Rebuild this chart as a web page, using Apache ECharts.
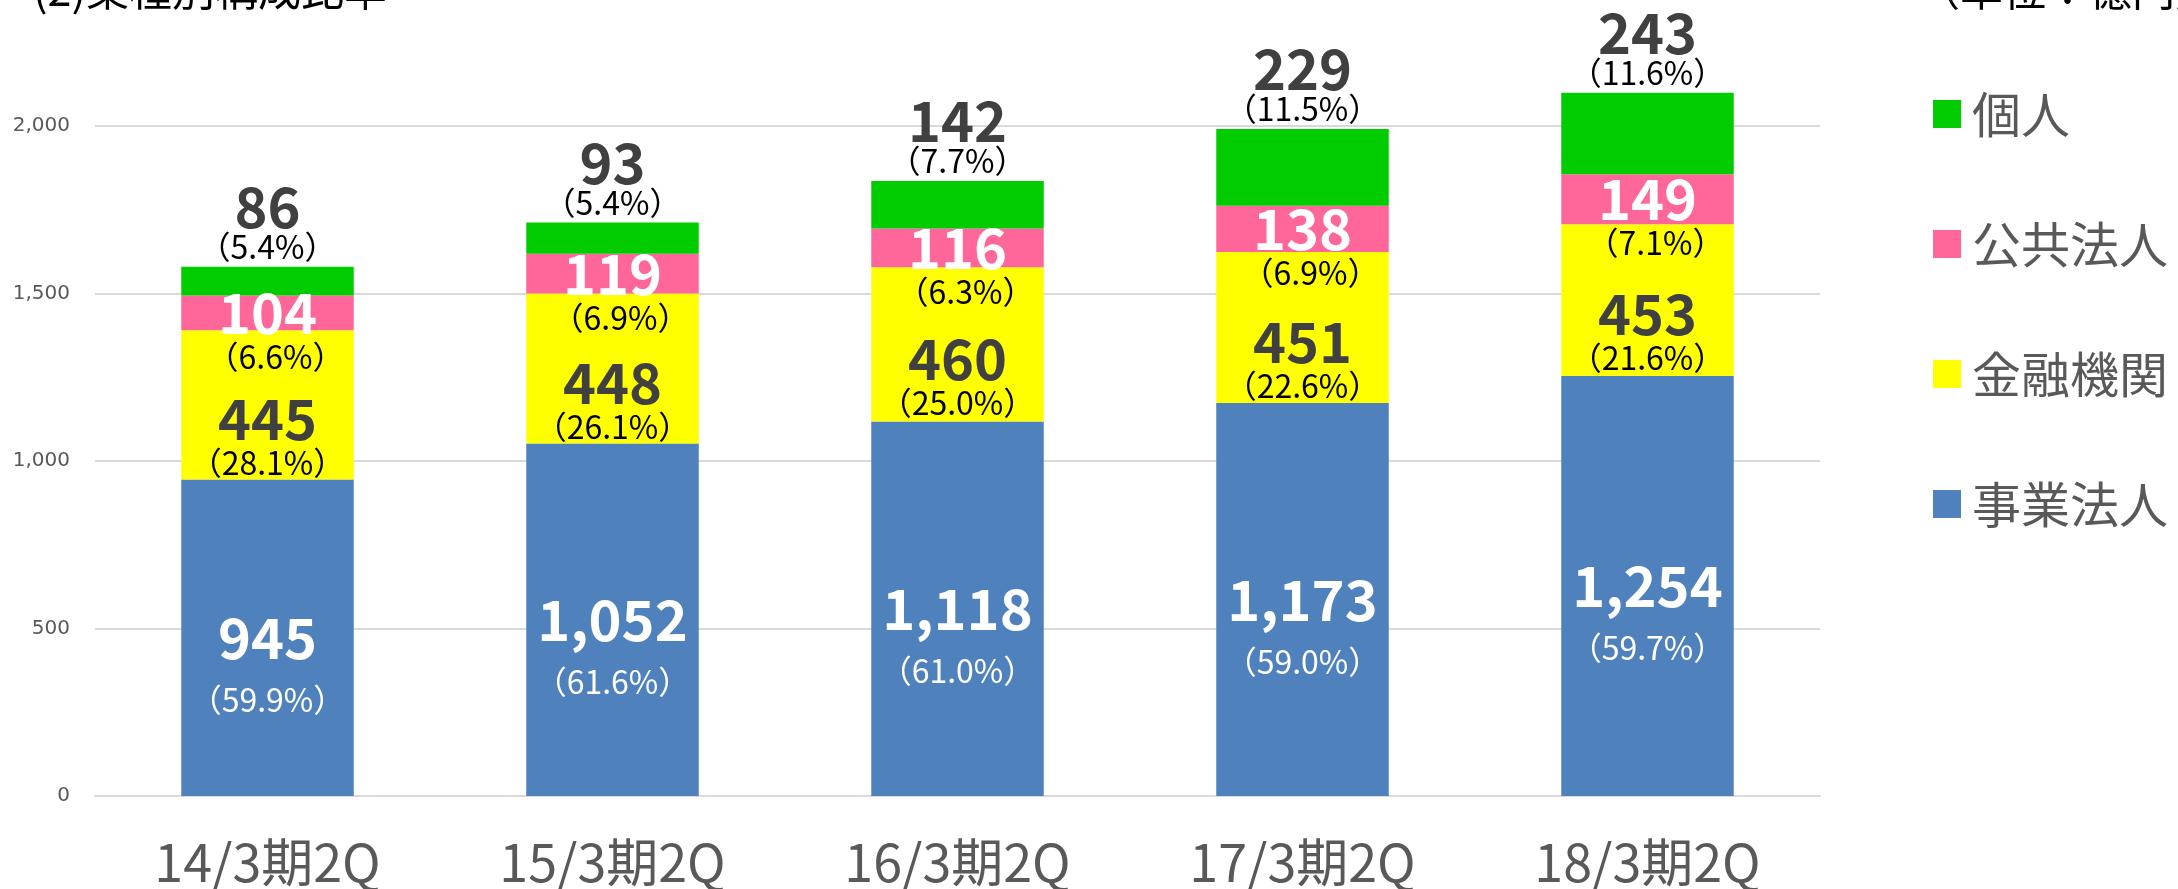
<!DOCTYPE html>
<html>
<head>
<meta charset="utf-8">
<script src="https://cdn.jsdelivr.net/npm/echarts@6/dist/echarts.min.js"></script>
<style>
html, body { margin: 0; padding: 0; background: #fff; }
#chart { width: 2178px; height: 889px; }
</style>
</head>
<body>
<div id="chart"></div>
<script>
// values in 億円, ratios in %
const categories = ['14/3期2Q', '15/3期2Q', '16/3期2Q', '17/3期2Q', '18/3期2Q']
const corporate = [945, 1052, 1118, 1173, 1254]
const corporateRatio = ['59.9', '61.6', '61.0', '59.0', '59.7']
const financial = [445, 448, 460, 451, 453]
const financialRatio = ['28.1', '26.1', '25.0', '22.6', '21.6']
const publicBody = [104, 119, 116, 138, 149]
const publicRatio = ['6.6', '6.9', '6.3', '6.9', '7.1']
const individual = [86, 93, 142, 229, 243]
const individualRatio = ['5.4', '5.4', '7.7', '11.5', '11.6']
const legendOrder = ['個人', '公共法人', '金融機関', '事業法人']

const jp = '"Noto Sans CJK JP", "Noto Sans", sans-serif'
const fmt = (v) => v.toLocaleString('en-US')

const makeLabel = (ratios, o) => ({
  show: true,
  position: o.position,
  distance: o.distance || 0,
  offset: o.offset || [0, 0],
  formatter: (p) => `{v|${fmt(p.value)}}\n{p|（${ratios[p.dataIndex]}%）}`,
  rich: {
    v: { fontFamily: jp, fontSize: 56, fontWeight: 'bold', color: o.numColor, lineHeight: o.l1, align: 'center' },
    p: { fontFamily: jp, fontSize: 32, color: o.pctColor, lineHeight: o.l2, align: 'center', padding: o.pctPad || 0 }
  }
})

// both headings are cut off by the top edge in the original
const headStyle = { fontFamily: jp, fontSize: 43, fontWeight: 'normal', color: '#000' }

const myChart = echarts.init(document.getElementById('chart'))
myChart.setOption({
  animation: false,
  title: [
    { text: '(2)業種別構成比率', left: 28, top: -37, textStyle: headStyle },
    { text: '（単位：億円）', left: 1912, top: -37, textStyle: headStyle }
  ],
  legend: {
    data: legendOrder,
    orient: 'vertical',
    left: 1928,
    top: 84,
    itemWidth: 28,
    itemHeight: 28,
    itemGap: 80,
    icon: 'rect',
    selectedMode: false,
    textStyle: { fontFamily: jp, fontSize: 49, color: '#595959', lineHeight: 50, padding: [0, 0, 0, 6] }
  },
  grid: { left: 95, right: 358, top: -41.5, bottom: 93, outerBoundsMode: 'none' },
  xAxis: {
    type: 'category',
    data: categories,
    axisTick: { show: false },
    axisLine: { lineStyle: { color: '#d9d9d9', width: 2 } },
    axisLabel: { fontFamily: jp, fontSize: 52, color: '#595959', margin: 40 }
  },
  yAxis: {
    type: 'value',
    min: 0,
    max: 2500,
    interval: 500,
    axisLine: { show: false },
    axisTick: { show: false },
    splitLine: { lineStyle: { color: '#d9d9d9', width: 2 } },
    axisLabel: { fontFamily: 'DejaVu Sans', fontSize: 20, color: '#595959', margin: 25, formatter: (v) => fmt(v) }
  },
  series: [
    {
      name: '事業法人', type: 'bar', stack: 'total', barWidth: '50%',
      itemStyle: { color: '#4F81BD' }, data: corporate,
      label: makeLabel(corporateRatio, { position: 'inside', offset: [0, 31], l1: 62, l2: 62, numColor: '#fff', pctColor: '#fff' })
    },
    {
      name: '金融機関', type: 'bar', stack: 'total',
      itemStyle: { color: '#FFFF00' }, data: financial,
      label: makeLabel(financialRatio, { position: 'inside', offset: [0, 36], l1: 44, l2: 44, numColor: '#404040', pctColor: '#000' })
    },
    {
      name: '公共法人', type: 'bar', stack: 'total',
      itemStyle: { color: '#FF6699' }, data: publicBody,
      label: makeLabel(publicRatio, { position: 'inside', offset: [0, 22], l1: 44, l2: 44, numColor: '#fff', pctColor: '#000', pctPad: [0, 0, 0, 16] })
    },
    {
      name: '個人', type: 'bar', stack: 'total',
      itemStyle: { color: '#00CC00' }, data: individual,
      label: makeLabel(individualRatio, { position: 'top', distance: 0, l1: 40, l2: 40, numColor: '#404040', pctColor: '#000' })
    }
  ]
})
</script>
</body>
</html>
